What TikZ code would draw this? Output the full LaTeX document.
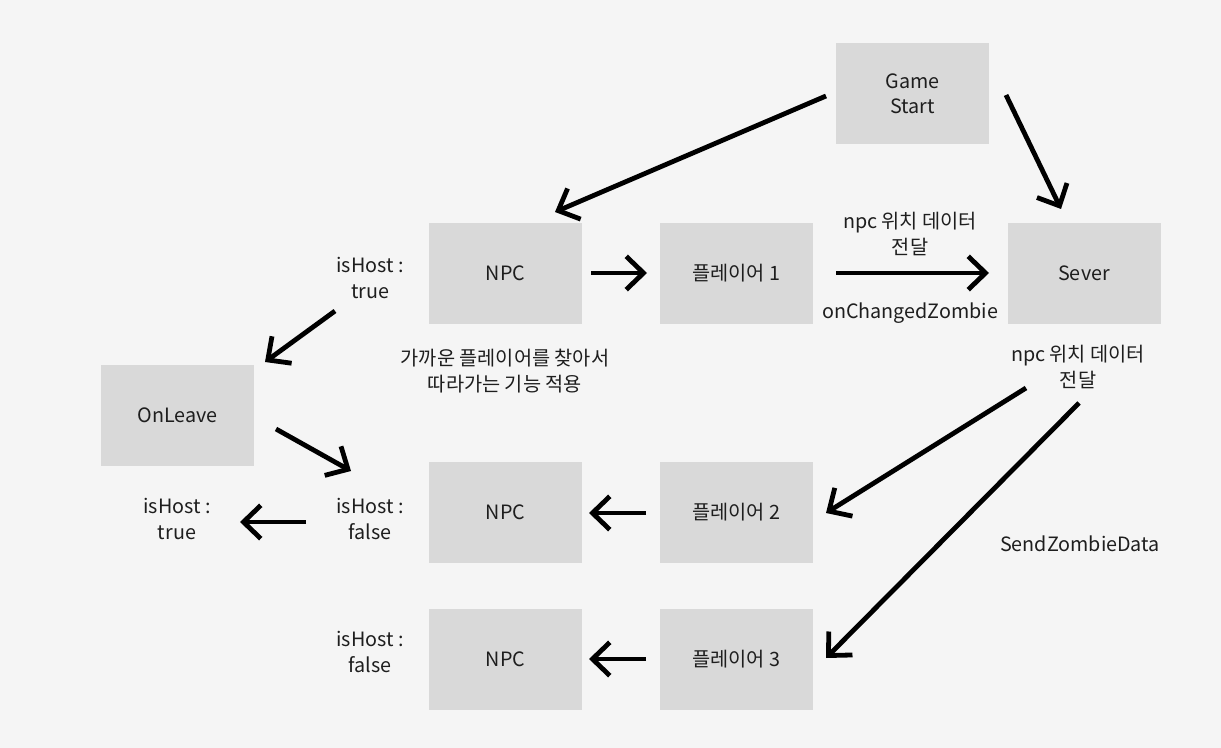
\documentclass[tikz,border=0pt]{standalone}
\usepackage{fontspec}
\setmainfont{Noto Sans CJK KR}
\usetikzlibrary{arrows.meta}
\definecolor{bg}{HTML}{F5F5F5}
\definecolor{boxc}{HTML}{D9D9D9}
\definecolor{txt}{HTML}{1E1E1E}
\tikzset{
  box/.style={fill=boxc, draw=none, minimum width=114.75pt, minimum height=75.75pt, inner sep=0pt, align=center, text=txt, font=\fontsize{14.8}{19}\selectfont},
  lbl/.style={align=center, text=txt, inner sep=0pt, font=\fontsize{14.8}{19}\selectfont},
  conn/.style={line width=3.6pt, black, -{Straight Barb[length=13pt,width=25pt,line width=3.6pt]}}
}
\begin{document}
\begin{tikzpicture}[x=0.75pt,y=-0.75pt]
\useasboundingbox (0,0) rectangle (1221,748);
\fill[bg] (0,0) rectangle (1221,748);
% boxes
\node[box] (gs) at (912.5,94) {Game\\Start};
\node[box] (sv) at (1084,273.5) {Sever};
\node[box] (npc1) at (505.5,273.5) {NPC};
\node[box] (p1) at (736,273.5) {플레이어 1};
\node[box] (ol) at (177.5,415.5) {OnLeave};
\node[box] (npc2) at (505.5,512.5) {NPC};
\node[box] (p2) at (736,512.5) {플레이어 2};
\node[box] (npc3) at (505.5,659) {NPC};
\node[box] (p3) at (736,659) {플레이어 3};
% labels
\node[lbl] (h1) at (370,278) {isHost :\\true};
\node[lbl] (desc) at (505,371) {가까운 플레이어를 찾아서\\따라가는 기능 적용};
\node[lbl] (d1) at (910,234) {npc 위치 데이터\\전달};
\node[lbl] (oc) at (910,313) {onChangedZombie};
\node[lbl] (d2) at (1078,367) {npc 위치 데이터\\전달};
\node[lbl] (h2) at (177,519) {isHost :\\true};
\node[lbl] (h3) at (370,519) {isHost :\\false};
\node[lbl] (szd) at (1080,544) {SendZombieData};
\node[lbl] (h4) at (370,652) {isHost :\\false};
% connector end points
\coordinate (a1s) at (826,96);   \coordinate (a1e) at (555,212);
\coordinate (a2s) at (1006,95);  \coordinate (a2e) at (1061,209);
\coordinate (a3s) at (591,273);  \coordinate (a3e) at (647,273);
\coordinate (a4s) at (836,273);  \coordinate (a4e) at (989,273);
\coordinate (a5s) at (335,311);  \coordinate (a5e) at (265,362);
\coordinate (a6s) at (276,429);  \coordinate (a6e) at (351,471);
\coordinate (a7s) at (306,522);  \coordinate (a7e) at (240,522);
\coordinate (a8s) at (646,513);  \coordinate (a8e) at (589,513);
\coordinate (a9s) at (646,659);  \coordinate (a9e) at (589,659);
\coordinate (a10s) at (1026,388); \coordinate (a10e) at (826,513);
\coordinate (a11s) at (1079,403); \coordinate (a11e) at (826,658);
% connectors
\draw[conn] (a1s) -- (a1e);
\draw[conn] (a2s) -- (a2e);
\draw[conn] (a3s) -- (a3e);
\draw[conn] (a4s) -- (a4e);
\draw[conn] (a5s) -- (a5e);
\draw[conn] (a6s) -- (a6e);
\draw[conn] (a7s) -- (a7e);
\draw[conn] (a8s) -- (a8e);
\draw[conn] (a9s) -- (a9e);
\draw[conn] (a10s) -- (a10e);
\draw[conn] (a11s) -- (a11e);
\end{tikzpicture}
\end{document}
